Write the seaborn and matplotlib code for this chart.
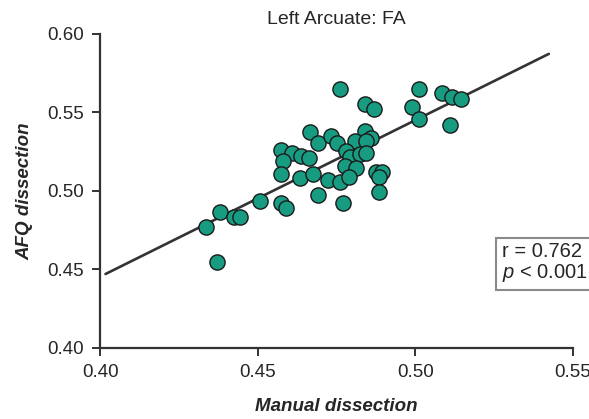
import numpy as np
import pandas as pd
import matplotlib
matplotlib.use("Agg")
import matplotlib.pyplot as plt
import seaborn as sns

# FA values (manual vs AFQ dissection)
manual_fa = [0.4760, 0.5010, 0.5083, 0.5117, 0.5146, 0.4839, 0.4867, 0.4990,
             0.5011, 0.5109, 0.4665, 0.4691, 0.4731, 0.4751, 0.4841, 0.4807,
             0.4860, 0.4844, 0.4575, 0.4610, 0.4638, 0.4662, 0.4580, 0.4779,
             0.4791, 0.4823, 0.4844, 0.4575, 0.4633, 0.4675, 0.4776, 0.4810,
             0.4876, 0.4895, 0.4884, 0.4723, 0.4760, 0.4789, 0.4691, 0.4883,
             0.4575, 0.4588, 0.4770, 0.4508, 0.4381, 0.4423, 0.4444, 0.4337,
             0.4372]
afq_fa = [0.5650, 0.5648, 0.5622, 0.5601, 0.5586, 0.5552, 0.5522, 0.5533,
          0.5461, 0.5418, 0.5376, 0.5308, 0.5350, 0.5304, 0.5384, 0.5318,
          0.5336, 0.5317, 0.5261, 0.5240, 0.5225, 0.5212, 0.5191, 0.5257,
          0.5218, 0.5236, 0.5244, 0.5108, 0.5083, 0.5106, 0.5159, 0.5145,
          0.5123, 0.5119, 0.5091, 0.5070, 0.5059, 0.5087, 0.4975, 0.4996,
          0.4925, 0.4890, 0.4922, 0.4936, 0.4868, 0.4836, 0.4832, 0.4771,
          0.4548]

# regression line end points as drawn in the reference
fit_x = [0.4017, 0.5423]
fit_y = [0.4471, 0.5873]

x_ticks = [0.40, 0.45, 0.50, 0.55]
y_ticks = [0.40, 0.45, 0.50, 0.55, 0.60]

df = pd.DataFrame({"Manual": manual_fa, "AFQ": afq_fa})

sns.set_style("ticks")
plt.rcParams["font.family"] = ["Liberation Sans", "DejaVu Sans"]
plt.rcParams["mathtext.fontset"] = "custom"
plt.rcParams["mathtext.rm"] = "Liberation Sans"
plt.rcParams["mathtext.it"] = "Liberation Sans:italic"

fig = plt.figure(figsize=(5.89, 4.19), dpi=100)
ax = fig.add_axes([0.170, 0.1695, 0.803, 0.7495])

ax.plot(fit_x, fit_y, color="#333333", lw=1.9, zorder=1)
sns.scatterplot(data=df, x="Manual", y="AFQ", ax=ax, s=120,
                color="#179c82", edgecolor="#1a1a1a", linewidth=1.0, zorder=2)

ax.set_xlim(0.40, 0.55)
ax.set_ylim(0.40, 0.60)
ax.set_xticks(x_ticks)
ax.set_yticks(y_ticks)
ax.set_xticklabels([f"{t:.2f}" for t in x_ticks])
ax.set_yticklabels([f"{t:.2f}" for t in y_ticks])
ax.tick_params(labelsize=13.5, length=5.5, width=1.4, color="#333333",
               pad=6, direction="out")

sns.despine(ax=ax)
for side in ["left", "bottom"]:
    ax.spines[side].set_linewidth(1.6)
    ax.spines[side].set_color("#333333")

ax.set_xlabel("Manual dissection", fontsize=13.5, fontweight="bold",
              fontstyle="italic", labelpad=12)
ax.set_ylabel("AFQ dissection", fontsize=13.5, fontweight="bold",
              fontstyle="italic", labelpad=10)
ax.set_title("Left Arcuate: FA", fontsize=14, pad=7)

ax.text(0.85, 0.27, "r = 0.762\n$p$ < 0.001", transform=ax.transAxes,
        fontsize=14.5, ha="left", va="center", linespacing=1.05,
        bbox=dict(boxstyle="square,pad=0.3", facecolor="white",
                  edgecolor="#8a8a8a", linewidth=1.5))

fig.savefig("out.png", dpi=100)
